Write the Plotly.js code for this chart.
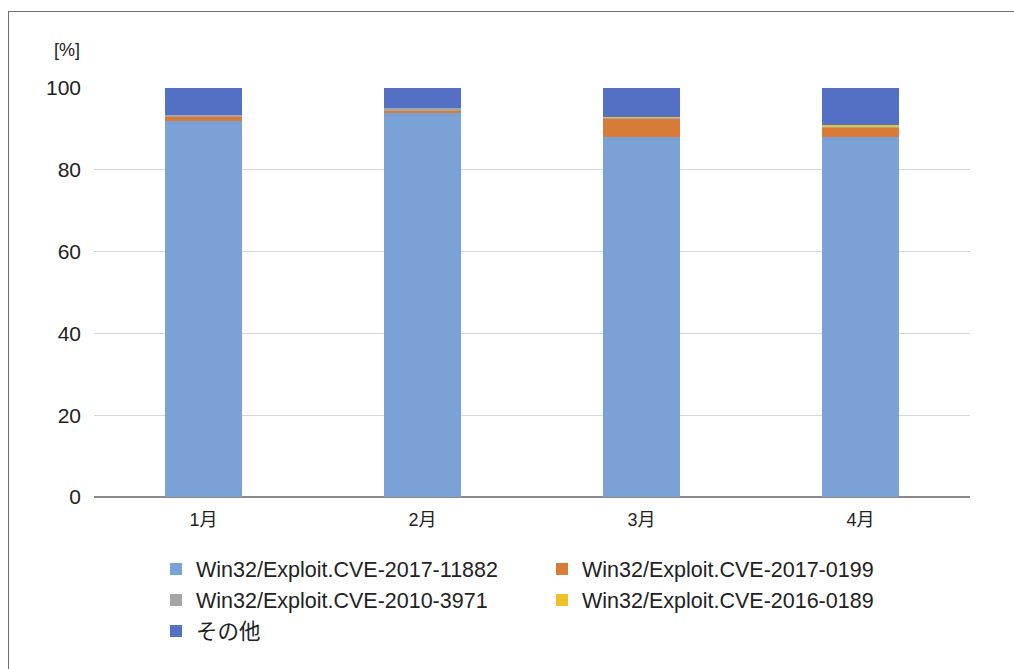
<!DOCTYPE html>
<html>
<head>
<meta charset="utf-8">
<script src="https://cdn.plot.ly/plotly-3.0.1.min.js"></script>
<style>
  html, body { margin: 0; padding: 0; background: #fff; }
  #chart { width: 1014px; height: 669px; position: relative; }
  #frame { position: absolute; left: 8px; top: 11px; width: 1030px; height: 700px;
           border: 1.5px solid #6e6e6e; pointer-events: none; box-sizing: border-box; }
</style>
</head>
<body>
<div id="wrap" style="position:relative;width:1014px;height:669px;overflow:hidden;">
  <div id="chart"></div>
  <div id="frame"></div>
</div>
<script>
const months = ['1月', '2月', '3月', '4月'];
const cve201711882 = [92.0, 93.8, 88.1, 88.1];
const cve20170199 = [1.0, 0.7, 4.2, 2.1];
const cve20103971 = [0.4, 0.5, 0.4, 0.3];
const cve20160189 = [0.0, 0.1, 0.2, 0.5];
const others = [6.6, 4.9, 7.1, 9.0];

const seriesNames = [
  'Win32/Exploit.CVE-2017-11882',
  'Win32/Exploit.CVE-2017-0199',
  'Win32/Exploit.CVE-2010-3971',
  'Win32/Exploit.CVE-2016-0189',
  'その他'
];
const seriesValues = [cve201711882, cve20170199, cve20103971, cve20160189, others];
const colors = ['#7BA2D6', '#D97B38', '#A5A5A5', '#EFC129', '#5470C4'];
const legendIds = ['legend', 'legend2', 'legend3', 'legend4', 'legend5'];

const FONT = '"Liberation Sans", Arial, "Noto Sans CJK JP", sans-serif';

const traces = seriesNames.map((name, i) => ({
  type: 'bar',
  name: name,
  x: months,
  y: seriesValues[i],
  marker: { color: colors[i], line: { width: 0 } },
  legend: legendIds[i],
  hoverinfo: 'x+y+name'
}));

// plot area: x 94..970, y 88..497
const L = 94, R = 970, T = 88, B = 497;
const px = v => (v - L) / (R - L);
const py = v => (B - v) / (B - T);

const legendPos = [
  [156, 569], [542, 569],
  [156, 600], [542, 600],
  [156, 631]
];

const layout = {
  width: 1014,
  height: 669,
  margin: { l: L, r: 1014 - R, t: T, b: 669 - B, pad: 0 },
  paper_bgcolor: '#ffffff',
  plot_bgcolor: '#ffffff',
  font: { family: FONT, color: '#222222', size: 16 },
  barmode: 'stack',
  bargap: 0.65,
  showlegend: true,
  xaxis: {
    type: 'category',
    tickfont: { family: FONT, size: 18, color: '#222222' },
    ticks: '',
    ticklabelstandoff: 10,
    showgrid: false,
    showline: false,
    zeroline: false,
    fixedrange: true
  },
  yaxis: {
    range: [0, 100],
    tickvals: [0, 20, 40, 60, 80, 100],
    ticktext: ['0', '20', '40', '60', '80', '100'],
    tickfont: { family: FONT, size: 21, color: '#222222' },
    ticks: '',
    ticklabelstandoff: 12,
    showgrid: true,
    gridcolor: '#d6d6d6',
    gridwidth: 1,
    zeroline: true,
    zerolinecolor: '#8a8a8a',
    zerolinewidth: 1.5,
    showline: false,
    fixedrange: true
  },
  annotations: [{
    text: '[%]',
    xref: 'paper', yref: 'paper',
    x: px(66.5), y: py(50),
    xanchor: 'center', yanchor: 'middle',
    showarrow: false,
    font: { family: FONT, size: 18, color: '#222222' }
  }]
};

legendIds.forEach((id, i) => {
  layout[id] = {
    orientation: 'v',
    x: px(legendPos[i][0]),
    y: py(legendPos[i][1]),
    xanchor: 'left',
    yanchor: 'middle',
    xref: 'paper', yref: 'paper',
    bgcolor: 'rgba(0,0,0,0)',
    borderwidth: 0,
    font: { family: FONT, size: 21.5, color: '#222222' },
    traceorder: 'normal'
  };
});

Plotly.newPlot('chart', traces, layout, { displayModeBar: false, staticPlot: true });
</script>
</body>
</html>
